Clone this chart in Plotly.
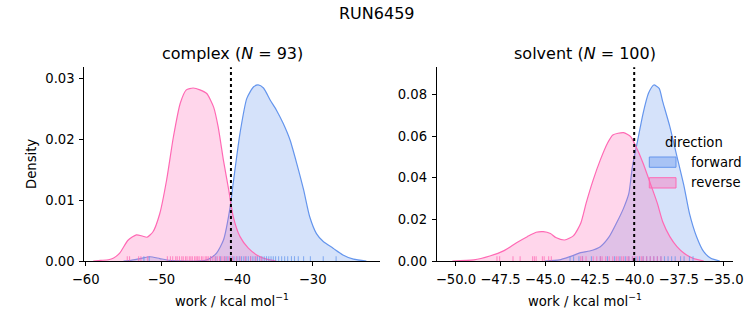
import plotly.graph_objects as go

# ---------------- data ----------------
# complex leg: KDE curves
cx_rev = [-59.0, -58.0, -57.0, -56.3, -55.5, -54.4, -53.3, -52.5, -51.9, -51.1, -50.2, -49.3, -48.4,
          -47.5, -46.7, -45.8, -44.9, -44.0, -43.1, -42.5, -41.8, -41.1, -40.5, -39.6, -38.5, -37.4,
          -36.1, -34.8]
cy_rev = [0, 0.0001, 0.0002, 0.0005, 0.0013, 0.0034, 0.0043, 0.0041, 0.0039, 0.0048, 0.0078, 0.0133,
          0.0204, 0.0259, 0.0281, 0.0284, 0.0281, 0.0275, 0.0253, 0.0221, 0.0166, 0.0117, 0.0073,
          0.0040, 0.0021, 0.0010, 0.0003, 0]
cx_fwd = [-55.0, -54.0, -52.8, -51.5, -50.2, -48.9, -47.5, -45.5, -44.2, -43.6, -42.7, -41.8, -40.9,
          -40.5, -39.6, -38.7, -37.8, -37.2, -36.5, -35.6, -34.8, -33.9, -33.0, -32.1, -31.2, -30.4,
          -29.5, -28.6, -27.3, -26.0, -24.6, -22.9]
cy_fwd = [0, 0.0001, 0.0004, 0.0007, 0.0004, 0.0001, 0.00002, 0.0, 0.0001, 0.0004, 0.0013, 0.0034,
          0.0089, 0.0128, 0.0210, 0.0267, 0.0286, 0.0289, 0.0284, 0.0264, 0.0248, 0.0226, 0.0199,
          0.0160, 0.0117, 0.0073, 0.0045, 0.0032, 0.0021, 0.0010, 0.0003, 0]
c_rug_rev = [-54.5, -54.2, -53.0, -52.7, -51.8, -49.2, -48.8, -48.5, -48.1, -47.9, -47.6, -47.3, -47.1,
             -46.8, -46.6, -46.3, -46.1, -45.9, -45.6, -45.4, -45.2, -45.0, -44.7, -44.5, -44.2, -44.0,
             -43.8, -43.5, -43.2, -42.9, -42.6, -42.3, -42.0, -41.7, -41.4, -41.0, -40.6, -40.1, -39.6,
             -38.9, -38.2, -37.5, -36.8]
c_rug_fwd = [-52.3, -51.6, -43.5, -42.8, -42.2, -41.6, -41.2, -40.8, -40.4, -40.0, -39.7, -39.4, -39.1,
             -38.8, -38.5, -38.2, -37.9, -37.6, -37.3, -37.0, -36.7, -36.4, -36.1, -35.8, -35.5, -35.2,
             -34.9, -34.5, -34.1, -33.7, -33.3, -32.8, -32.4, -31.9, -31.2, -30.3, -28.6, -26.9]
c_dg = -40.8

# solvent leg
sx_rev = [-50.2, -49.0, -48.1, -47.3, -46.6, -46.0, -45.5, -45.1, -44.7, -44.4, -43.9, -43.4, -43.0,
          -42.7, -42.3, -41.9, -41.5, -41.2, -40.6, -40.2, -39.9, -39.5, -39.1, -38.7, -38.4, -38.0,
          -37.6, -37.2, -36.7, -36.1]
sy_rev = [0, 0.0005, 0.0024, 0.0050, 0.0088, 0.0117, 0.0138, 0.0141, 0.0132, 0.0113, 0.0101, 0.0122,
          0.0181, 0.0277, 0.0390, 0.0486, 0.0566, 0.0606, 0.0617, 0.0598, 0.0550, 0.0470, 0.0374,
          0.0277, 0.0189, 0.0117, 0.0069, 0.0037, 0.0013, 0]
sx_fwd = [-45.0, -44.2, -43.6, -43.0, -42.5, -41.9, -41.4, -41.0, -40.6, -40.3, -40.1, -39.8, -39.5,
          -39.2, -38.9, -38.6, -38.4, -38.0, -37.6, -37.2, -36.9, -36.5, -36.1, -35.7, -35.2]
sy_fwd = [0, 0.0005, 0.0021, 0.0040, 0.0048, 0.0069, 0.0117, 0.0181, 0.0253, 0.0325, 0.0454, 0.0582,
          0.0710, 0.0806, 0.0846, 0.0830, 0.0766, 0.0646, 0.0502, 0.0358, 0.0229, 0.0117, 0.0045,
          0.0013, 0]
s_rug_rev = [-47.7, -47.55, -46.8, -46.4, -45.7, -45.6, -45.5, -45.15, -45.05, -44.8, -44.65, -43.0,
             -42.9, -42.7, -42.3, -42.1, -41.9, -41.8, -41.6, -41.4, -41.2, -41.0, -40.9, -40.7, -40.6,
             -40.4, -40.3, -40.1, -40.0, -39.8, -39.6, -39.5, -39.3, -39.1, -38.9, -38.7, -38.5]
s_rug_fwd = [-43.6, -43.4, -43.1, -42.9, -42.4, -41.9, -41.5, -41.1, -40.8, -40.5, -40.3, -40.1, -39.9,
             -39.7, -39.5, -39.3, -39.1, -38.9, -38.7, -38.5, -38.3, -38.1, -37.9, -37.7, -37.4, -37.2,
             -36.9, -36.7]
s_dg = -40.0

c_title = "complex (<i>N</i> = 93)"
s_title = "solvent (<i>N</i> = 100)"
suptitle = "RUN6459"
xlabel = "work / kcal mol<sup>−1</sup>"
ylabel = "Density"
legend_title = "direction"
directions = ["forward", "reverse"]

# ---------------- styling ----------------
W, H = 753, 325
BLUE = "#6495ED"
PINK = "#FF69B4"
FILL = {"forward": "rgba(100,149,237,0.27)", "reverse": "rgba(255,105,180,0.27)"}
LEGFILL = {"forward": "rgba(100,149,237,0.4)", "reverse": "rgba(255,105,180,0.4)"}
LINE = {"forward": BLUE, "reverse": PINK}
RUGC = {"forward": "rgba(100,149,237,0.7)", "reverse": "rgba(255,105,180,0.7)"}
FONT = "DejaVu Sans"
TXT = "#000000"
TICK_SIZE = 13.2
TITLE_SIZE = 16

def px(x):
    return x / W

def py(y):
    return 1 - y / H

c_xr = [-60.18, -21.1]
c_yr = [0, 0.0318]
s_xr = [-51.08, -34.44]
s_yr = [0, 0.0931]

fig = go.Figure()

def add_panel(xa, ya, curves, rugs, yr):
    for d in directions:
        xs, ys = curves[d]
        fig.add_trace(go.Scatter(x=xs, y=ys, mode="lines", fill="tozeroy", fillcolor=FILL[d],
                                 line=dict(color=LINE[d], width=1.2, shape="spline", smoothing=0.6),
                                 xaxis=xa, yaxis=ya, showlegend=False, hoverinfo="skip"))
    h = 0.025 * yr[1]
    for d in directions:
        rx, ry = [], []
        for v in rugs[d]:
            rx += [v, v, None]
            ry += [0, h, None]
        fig.add_trace(go.Scatter(x=rx, y=ry, mode="lines", line=dict(color=RUGC[d], width=1.1),
                                 xaxis=xa, yaxis=ya, showlegend=False, hoverinfo="skip"))

add_panel("x", "y", {"forward": (cx_fwd, cy_fwd), "reverse": (cx_rev, cy_rev)},
          {"forward": c_rug_fwd, "reverse": c_rug_rev}, c_yr)
add_panel("x2", "y2", {"forward": (sx_fwd, sy_fwd), "reverse": (sx_rev, sy_rev)},
          {"forward": s_rug_fwd, "reverse": s_rug_rev}, s_yr)

ydom = [py(261), py(67.3)]
axis_common = dict(showgrid=False, zeroline=False, showline=True, linecolor="black", linewidth=1,
                   ticks="outside", ticklen=4, tickwidth=0.8, tickcolor="black", automargin=False,
                   ticklabelstandoff=2,
                   tickfont=dict(family=FONT, size=TICK_SIZE, color=TXT))

fig.update_layout(
    width=W, height=H, margin=dict(l=0, r=0, t=0, b=0, autoexpand=False),
    paper_bgcolor="white", plot_bgcolor="white", showlegend=False,
    xaxis=dict(domain=[px(84.3), px(380)], range=c_xr, tickvals=[-60, -50, -40, -30],
               anchor="y", **axis_common),
    yaxis=dict(domain=ydom, range=c_yr, tickvals=[0, 0.01, 0.02, 0.03], tickformat=".2f",
               anchor="x", **axis_common),
    xaxis2=dict(domain=[px(436.7), px(733.3)], range=s_xr,
                tickvals=[-50, -47.5, -45, -42.5, -40, -37.5, -35], tickformat=".1f",
                anchor="y2", **axis_common),
    yaxis2=dict(domain=ydom, range=s_yr, tickvals=[0, 0.02, 0.04, 0.06, 0.08], tickformat=".2f",
                anchor="x2", **axis_common),
)

# dotted vertical lines
for xr, val in (("x", c_dg), ("x2", s_dg)):
    fig.add_shape(type="line", xref=xr, yref=("y domain" if xr == "x" else "y2 domain"),
                  x0=val, x1=val, y0=0, y1=1, line=dict(color="black", width=2, dash="dot"),
                  layer="above")

def ann(text, x, y, size, angle=0, xanchor="center"):
    fig.add_annotation(text=text, x=px(x), y=py(y), xref="paper", yref="paper", showarrow=False,
                       xanchor=xanchor, yanchor="middle", textangle=angle,
                       font=dict(family=FONT, size=size, color=TXT))

ann(suptitle, 376.5, 13, TITLE_SIZE)
ann(c_title, 232, 54, TITLE_SIZE)
ann(s_title, 585, 54, TITLE_SIZE)
ann(xlabel, 232, 300, TICK_SIZE)
ann(xlabel, 585, 300, TICK_SIZE)
ann(ylabel, 31, 164, TICK_SIZE, angle=-90)

# manual legend
ann(legend_title, 694, 142, TICK_SIZE)
for i, d in enumerate(directions):
    y0 = 157 + i * 20.7
    fig.add_shape(type="rect", xref="paper", yref="paper", x0=px(649.3), x1=px(676),
                  y0=py(y0 + 10.3), y1=py(y0), fillcolor=LEGFILL[d],
                  line=dict(color=LINE[d], width=1), layer="above")
    ann(d, 688.5, y0 + 5.2, TICK_SIZE, xanchor="left")

fig.write_html("out.html")
